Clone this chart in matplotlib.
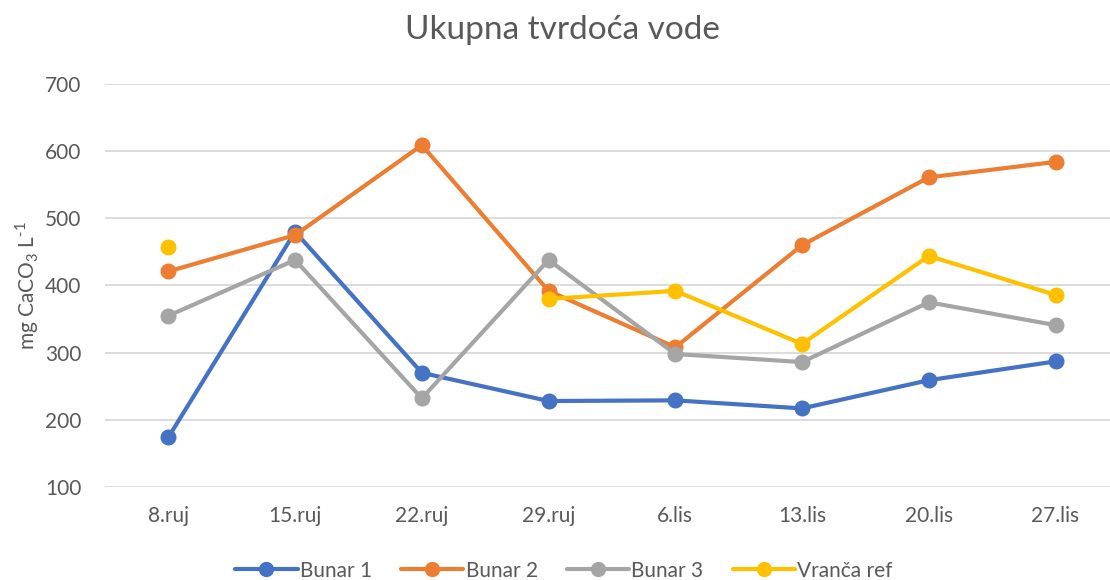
import numpy as np
import matplotlib
matplotlib.use('Agg')
import matplotlib.pyplot as plt

plt.rcParams['font.family'] = ['Lato', 'DejaVu Sans']

dates = ['8.ruj', '15.ruj', '22.ruj', '29.ruj', '6.lis', '13.lis', '20.lis', '27.lis']

bunar1 = [174, 480, 270, 228, 229, 217, 259, 287]
bunar2 = [421, 475, 609, 392, 308, 460, 561, 584]
bunar3 = [355, 438, 232, 438, 298, 286, 375, 341]
vranca = [457, np.nan, np.nan, 380, 392, 313, 444, 386]

series = [
    ('Bunar 1', bunar1, '#4472C4'),
    ('Bunar 2', bunar2, '#ED7D31'),
    ('Bunar 3', bunar3, '#A5A5A5'),
    ('Vranča ref', vranca, '#FFC000'),
]

grey = '#595959'

fig = plt.figure(figsize=(11.1, 5.8), dpi=100)
ax = fig.add_axes([105 / 1110, 1 - 487 / 580, 1 - 105 / 1110, (487 - 84) / 580])

x = np.arange(len(dates))
for name, vals, col in series:
    ax.plot(x, vals, color=col, lw=3.0, marker='o', markersize=10.5,
            label=name, solid_capstyle='round', zorder=3)

ax.set_ylim(100, 700)
ax.set_yticks(range(100, 701, 100))
ax.set_xlim(-0.5, 7.43)
ax.set_xticks(x)
ax.set_xticklabels(dates)
ax.grid(axis='y', color='#D9D9D9', lw=1.3)
ax.set_axisbelow(True)
for s in ax.spines.values():
    s.set_visible(False)
ax.tick_params(length=0, labelsize=15, colors=grey, pad=14)
ax.tick_params(axis='y', pad=17)

ax.set_ylabel('mg CaCO$_\\mathregular{3}$ L$^\\mathregular{\u20101}$', fontsize=15, color=grey)
ax.yaxis.set_label_coords(-0.064, 0.5)

fig.text(0.507, 0.948, 'Ukupna tvrdoća vode', ha='center', va='center', fontsize=24, color=grey)

fig.legend(loc='center', bbox_to_anchor=(0.508, 0.016), ncol=4, frameon=False,
           fontsize=15, labelcolor=grey, handlelength=3.0, handletextpad=0.1,
           columnspacing=1.4, markerscale=0.95)

fig.savefig('out.png', dpi=100)
